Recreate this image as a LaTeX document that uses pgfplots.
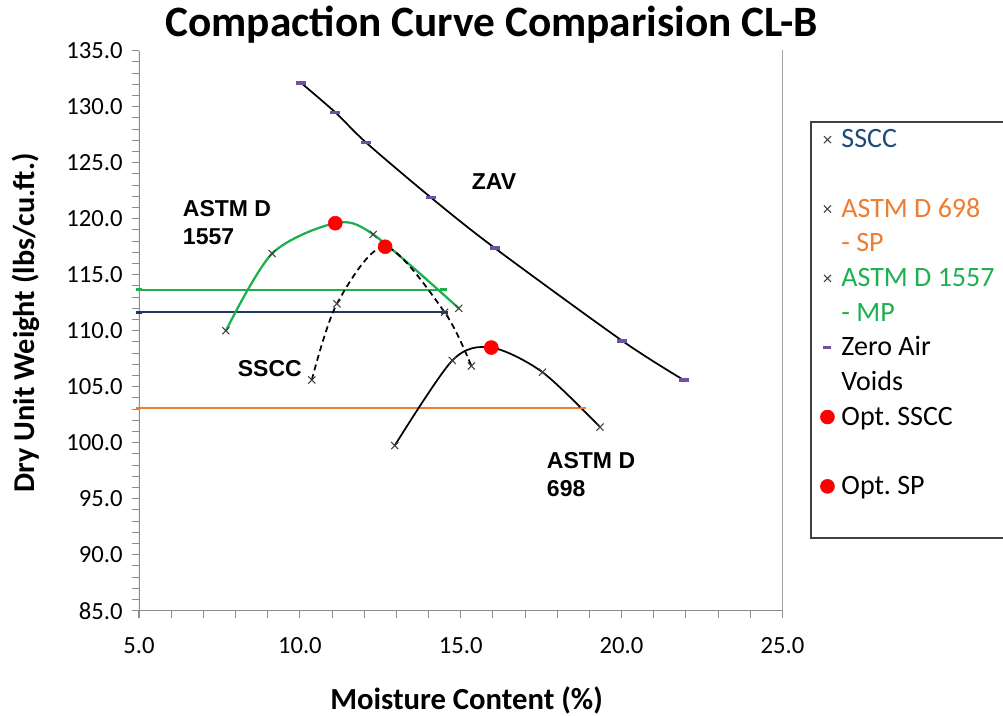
\documentclass[border=0pt]{standalone}
\usepackage{fontspec}
\setmainfont{Carlito}
\newfontfamily\arialfont{Liberation Sans}
\usepackage{pgfplots}
\pgfplotsset{compat=1.18}
\definecolor{mpgreen}{HTML}{1DB04F}
\definecolor{sporange}{HTML}{ED7D31}
\definecolor{ssccnavy}{HTML}{1F3864}
\definecolor{ssccblue}{HTML}{1F497D}
\definecolor{zavpurple}{HTML}{7050A0}
\definecolor{markgray}{HTML}{404040}
\definecolor{axisgray}{HTML}{8C8C8C}
\frenchspacing
\begin{document}
\begin{tikzpicture}
\useasboundingbox (0pt,0pt) rectangle (752.25pt,536.25pt);
\begin{axis}[
  at={(104.25pt,78.2pt)}, anchor=south west,
  scale only axis, width=482.6pt, height=420pt,
  xmin=5, xmax=25, ymin=85, ymax=135,
  axis line style={draw=none},
  xtick pos=bottom, ytick pos=left,
  xtick={5,10,15,20,25}, xticklabels={5.0,10.0,15.0,20.0,25.0},
  ytick={85,90,...,135}, yticklabels={85.0,90.0,95.0,100.0,105.0,110.0,115.0,120.0,125.0,130.0,135.0},
  minor x tick num=4, minor y tick num=4,
  tick align=outside,
  major tick length=5.25pt, minor tick length=5.25pt,
  tick style={axisgray, line width=0.8pt},
  tick label style={font=\fontsize{18.5}{20}\selectfont, text=black},
  xticklabel style={yshift=-11pt},
  yticklabel style={xshift=-3.5pt},
  title={Compaction Curve Comparision CL-B},
  title style={font=\bfseries\fontsize{32.5}{36}\selectfont, at={(axis description cs:0.548,1.0118)}, anchor=base},
  xlabel={Moisture Content (\%)},
  xlabel style={font=\bfseries\fontsize{23}{26}\selectfont, at={(axis description cs:0.509,-0.1755)}, anchor=base},
  ylabel={Dry Unit Weight (lbs/cu.ft.)},
  ylabel style={font=\bfseries\fontsize{22.7}{26}\selectfont, at={(axis description cs:-0.1765,0.514)}, anchor=center},
  legend cell align=left,
  legend image code/.code={\path[draw=none,fill=none] (-12.75pt,-13pt) rectangle (10.5pt,13pt); \draw[#1] plot coordinates {(0pt,0pt)};},
  legend style={draw=none, fill=none, at={(axis description cs:1.0435,0.8721)}, anchor=north west,
    inner sep=0pt, outer sep=0pt, row sep=0pt, column sep=0pt,
    font=\fontsize{21}{24}\selectfont,
    nodes={inner sep=0pt, text height=19pt, text depth=7pt}},
]
% axis lines
\draw[axisgray, line width=0.9pt] (rel axis cs:0,1) -- (rel axis cs:0,0) -- (rel axis cs:1,0);
% 95% relative compaction lines
\addplot[forget plot, mpgreen, line width=1.4pt, mark=-, mark size=2.5pt, mark options={line width=2.2pt}] coordinates {(5,113.66) (14.47,113.66)};
\addplot[forget plot, ssccnavy, line width=1.4pt, mark=-, mark size=2.5pt, mark options={line width=2.2pt}] coordinates {(5,111.65) (14.50,111.65)};
\addplot[forget plot, sporange, line width=1.4pt, mark=-, mark size=2.5pt, mark options={line width=2.2pt}] coordinates {(5,103.1) (18.8,103.1)};
% Zero air voids
\addplot[forget plot, black, line width=1.3pt, smooth] coordinates {(10.05,132.1) (11.10,129.5) (12.06,126.8) (14.07,121.9) (16.05,117.4) (20.02,109.1) (21.93,105.6)};
\addplot[forget plot, only marks, mark=-, mark size=3.75pt, mark options={zavpurple, line width=2.6pt}] coordinates {(10.05,132.1) (11.10,129.5) (12.06,126.8) (14.07,121.9) (16.05,117.4) (20.02,109.1) (21.93,105.6)};
% ASTM D 1557 - MP
\addplot[forget plot, mpgreen, line width=1.7pt, smooth] coordinates {(7.70,110.0) (9.14,116.9) (11.10,119.6) (12.28,118.6) (14.94,112.0)};
\addplot[forget plot, only marks, mark=x, mark size=3.75pt, mark options={markgray, line width=0.8pt}] coordinates {(7.70,110.0) (9.14,116.9) (12.28,118.6) (14.94,112.0)};
% SSCC
\addplot[forget plot, black, line width=1.3pt, dash pattern=on 4.5pt off 3pt, smooth] coordinates {(10.37,105.6) (11.15,112.4) (12.65,117.5) (14.50,111.65) (15.33,106.85)};
\addplot[forget plot, only marks, mark=x, mark size=3.75pt, mark options={markgray, line width=0.8pt}] coordinates {(10.37,105.6) (11.15,112.4) (14.50,111.65) (15.33,106.85)};
% ASTM D 698 - SP
\addplot[forget plot, black, line width=1.3pt, smooth] coordinates {(12.95,99.75) (14.74,107.35) (15.95,108.5) (17.54,106.3) (19.33,101.4)};
\addplot[forget plot, only marks, mark=x, mark size=3.75pt, mark options={markgray, line width=0.8pt}] coordinates {(12.95,99.75) (14.74,107.35) (17.54,106.3) (19.33,101.4)};
% optimum points
\addplot[forget plot, only marks, mark=*, mark size=5.25pt, mark options={red, draw=red}] coordinates {(12.65,117.5)};
\addplot[forget plot, only marks, mark=*, mark size=5.25pt, mark options={red, draw=red}] coordinates {(11.10,119.6) (15.95,108.5)};
% right border
\draw[black, line width=0.9pt] (rel axis cs:1,0) -- (rel axis cs:1,1.013);
% legend
\addlegendimage{mark=x, mark size=3.75pt, markgray, line width=0.8pt}
\addlegendentry{\textcolor{ssccblue}{SSCC}}
\addlegendimage{empty legend}
\addlegendentry{\mbox{}}
\addlegendimage{mark=x, mark size=3.75pt, markgray, line width=0.8pt}
\addlegendentry{\textcolor{sporange}{ASTM D 698}}
\addlegendimage{empty legend}
\addlegendentry{\textcolor{sporange}{- SP}}
\addlegendimage{mark=x, mark size=3.75pt, markgray, line width=0.8pt}
\addlegendentry{\textcolor{mpgreen}{ASTM D 1557}}
\addlegendimage{empty legend}
\addlegendentry{\textcolor{mpgreen}{- MP}}
\addlegendimage{mark=-, mark size=3pt, zavpurple, line width=2.2pt}
\addlegendentry{Zero Air}
\addlegendimage{empty legend}
\addlegendentry{Voids}
\addlegendimage{mark=*, mark size=5.25pt, red, draw=red}
\addlegendentry{Opt. SSCC}
\addlegendimage{empty legend}
\addlegendentry{\mbox{}}
\addlegendimage{mark=*, mark size=5.25pt, red, draw=red}
\addlegendentry{Opt. SP}
\addlegendimage{empty legend}
\addlegendentry{\mbox{}}
\end{axis}
\begin{scope}[x=0.75pt,y=0.75pt]
\draw[markgray, line width=1.1pt] (811,593) rectangle (1030,177);
\begin{scope}[every node/.style={font=\arialfont\bfseries\fontsize{17.25}{20}\selectfont, inner sep=0pt}]
\node[anchor=base] at (494,525) {ZAV};
\node[anchor=base west] at (182.7,498) {ASTM D};
\node[anchor=base west] at (182.7,470) {1557};
\node[anchor=base east] at (302,339) {SSCC};
\node[anchor=base west] at (546.7,247) {ASTM D};
\node[anchor=base west] at (546.7,219) {698};
\end{scope}
\end{scope}
\end{tikzpicture}
\end{document}
